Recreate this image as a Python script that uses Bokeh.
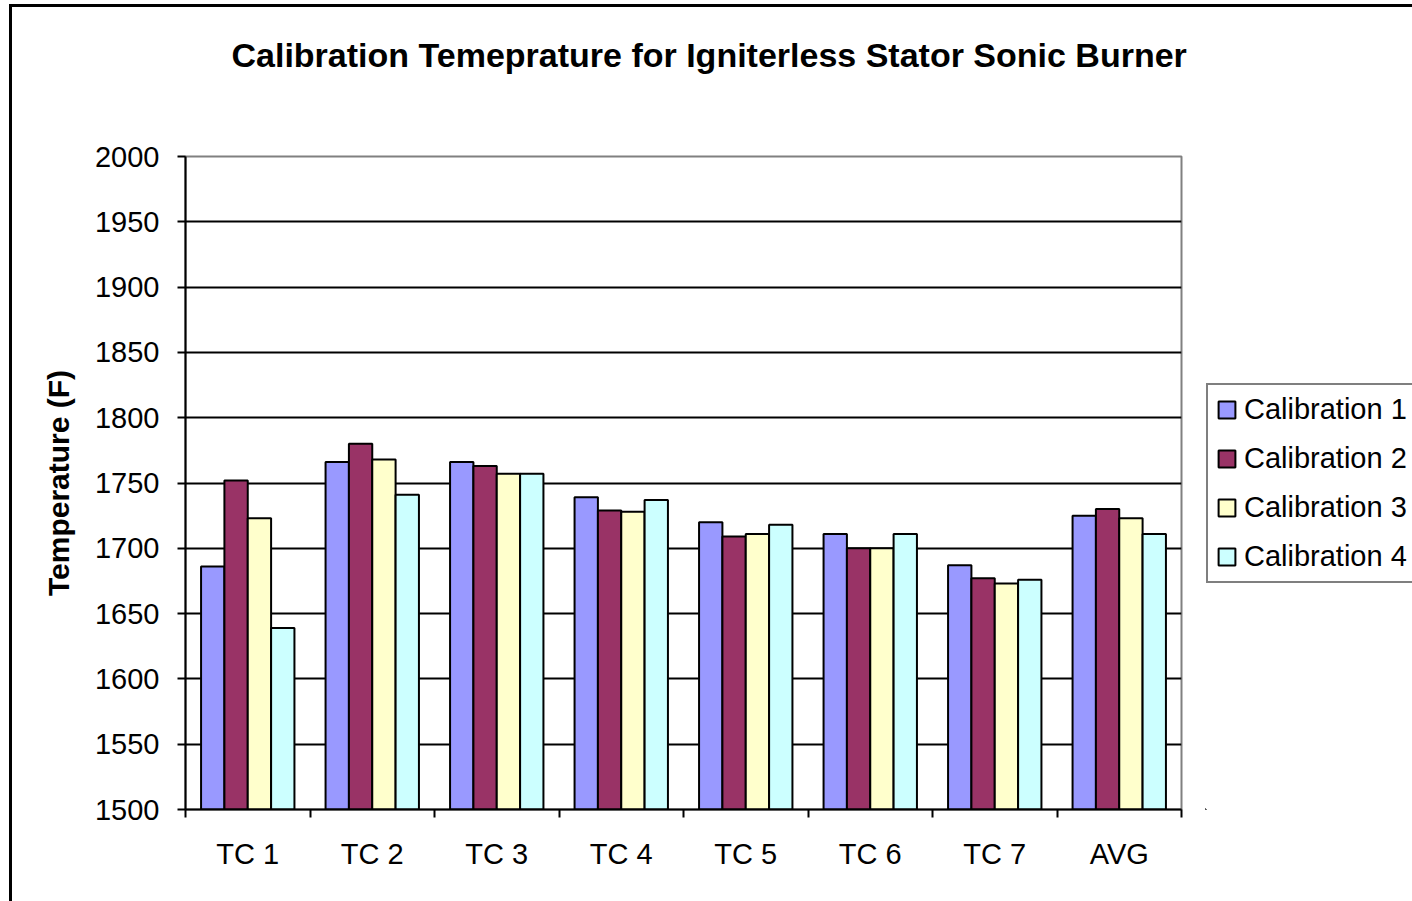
from bokeh.plotting import figure
from bokeh.layouts import row
from bokeh.models import ColumnDataSource, FixedTicker, Legend, LegendItem, Range1d, Title
from bokeh.embed import file_html
from bokeh.resources import INLINE

categories = ["TC 1", "TC 2", "TC 3", "TC 4", "TC 5", "TC 6", "TC 7", "AVG"]
series_names = ["Calibration 1", "Calibration 2", "Calibration 3", "Calibration 4"]
cal1 = [1686, 1766, 1766, 1739, 1720, 1711, 1687, 1725]
cal2 = [1752, 1780, 1763, 1729, 1709, 1700, 1677, 1730]
cal3 = [1723, 1768, 1757, 1728, 1711, 1700, 1673, 1723]
cal4 = [1639, 1741, 1757, 1737, 1718, 1711, 1676, 1711]
colors = ["#9999FF", "#993366", "#FFFFCC", "#CCFFFF"]
y_ticks = list(range(1500, 2001, 50))

FONT = "Liberation Sans"

p = figure(width=1205, height=901, output_backend="svg", toolbar_location=None,
           x_range=Range1d(0, len(categories)), y_range=Range1d(1500, 2000),
           min_border_left=185, min_border_right=24, min_border_top=156, min_border_bottom=92)
p.background_fill_color = "white"
p.border_fill_color = None
p.styles = {
    "background": "linear-gradient(#000,#000) 9px 4px / 3px 897px no-repeat, "
                  "linear-gradient(#000,#000) 9px 4px / 1200px 3px no-repeat, #fff"
}
p.outline_line_color = "#808080"
p.outline_line_width = 2

bar_w = 0.1875
all_vals = [cal1, cal2, cal3, cal4]
for k, vals in enumerate(all_vals):
    xs = [i + 0.125 + bar_w * (k + 0.5) for i in range(len(categories))]
    src = ColumnDataSource(dict(x=xs, top=vals))
    p.vbar(x="x", top="top", bottom=1500, width=bar_w, source=src,
           fill_color=colors[k], line_color="black", line_width=2)

# spacer between the title and the plot area (nearest to the frame)
spacer = Title(text=" ", text_font_size="10px", standoff=70, text_color="white")
p.add_layout(spacer, "above")

# title
p.title.text = "Calibration Temeprature for Igniterless Stator Sonic Burner"
p.title.text_font = FONT
p.title.text_font_size = "34px"
p.title.text_font_style = "bold"
p.title.text_color = "black"
p.title.align = "left"
p.title.offset = 46
p.title.standoff = 0

# y axis
ya = p.yaxis[0]
ya.ticker = FixedTicker(ticks=y_ticks)
ya.major_label_text_font = FONT
ya.major_label_text_font_size = "29px"
ya.major_label_text_color = "black"
ya.axis_line_color = "black"
ya.axis_line_width = 2
ya.major_tick_line_color = "black"
ya.major_tick_line_width = 2
ya.major_tick_in = 0
ya.major_tick_out = 8
ya.minor_tick_line_color = None
ya.major_label_standoff = 18
ya.axis_label = "Temperature (F)"
ya.axis_label_text_font = FONT
ya.axis_label_text_font_size = "30px"
ya.axis_label_text_font_style = "bold"
ya.axis_label_text_color = "black"
ya.axis_label_standoff = 17

# x axis
xa = p.xaxis[0]
centers = [i + 0.5 for i in range(len(categories))]
xa.ticker = FixedTicker(ticks=centers, minor_ticks=list(range(len(categories) + 1)))
xa.major_label_overrides = {c: lab for c, lab in zip(centers, categories)}
xa.major_label_text_font = FONT
xa.major_label_text_font_size = "29px"
xa.major_label_text_color = "black"
xa.major_tick_line_color = None
xa.minor_tick_line_color = "black"
xa.minor_tick_line_width = 2
xa.minor_tick_in = 0
xa.minor_tick_out = 8
xa.axis_line_color = "black"
xa.axis_line_width = 2
xa.major_label_standoff = 20

p.xgrid.grid_line_color = None
p.ygrid.ticker = FixedTicker(ticks=y_ticks)
p.ygrid.grid_line_color = "black"
p.ygrid.grid_line_width = 2

# legend panel (separate canvas so the box may sit outside the plot frame)
pl = figure(width=207, height=901, output_backend="svg", toolbar_location=None,
            x_range=Range1d(0, 1), y_range=Range1d(0, 1),
            x_axis_location=None, y_axis_location=None, min_border=0)
pl.outline_line_color = None
pl.background_fill_color = None
pl.border_fill_color = None
pl.xgrid.visible = False
pl.ygrid.visible = False
pl.styles = {"background": "linear-gradient(#000,#000) 0 4px / 207px 3px no-repeat, #fff"}
items = []
for k, name in enumerate(series_names):
    r = pl.vbar(x=[-10], top=[-10], bottom=-11, width=0.1,
                fill_color=colors[k], line_color="black", line_width=2)
    items.append(LegendItem(label=name, renderers=[r]))

legend = Legend(items=items, location=(1, 226), orientation="vertical")
legend.border_line_color = "black"
legend.border_line_width = 2
legend.label_text_font = FONT
legend.label_text_font_size = "29px"
legend.label_text_color = "black"
legend.glyph_width = 21
legend.glyph_height = 21
legend.label_standoff = 7
legend.spacing = 16
legend.padding = 8
legend.margin = 0
legend.background_fill_color = "white"
pl.add_layout(legend, "center")

layout = row(p, pl, spacing=0)
open("out.html", "w").write(file_html(layout, INLINE))
